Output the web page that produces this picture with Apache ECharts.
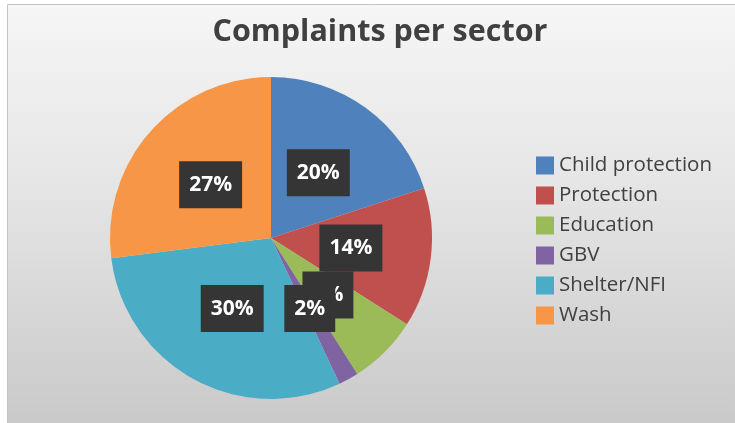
<!DOCTYPE html>
<html>
<head>
<meta charset="utf-8">
<script src="https://cdn.jsdelivr.net/npm/echarts@6/dist/echarts.min.js"></script>
<style>
  html, body { margin: 0; padding: 0; background: #ffffff; }
  #chart { width: 735px; height: 423px; }
</style>
</head>
<body>
<div id="chart"></div>
<script>
// Complaints per sector (share of all complaints, %)
const sectors = ['Child protection', 'Protection', 'Education', 'GBV', 'Shelter/NFI', 'Wash'];
const shares = [20, 14, 7, 2, 30, 27];
const sectorColors = ['#4F81BD', '#C0504D', '#9BBB59', '#8064A2', '#4BACC6', '#F79646'];
// stacking order of the percentage boxes (first is drawn underneath)
const labelDrawOrder = ['Education', 'Child protection', 'Wash', 'Shelter/NFI', 'Protection', 'GBV'];

const total = shares.reduce((a, b) => a + b, 0);

// mid-angle of every slice on a 0..total angle scale, so each box sits
// halfway out along its own slice
const midShare = {};
let running = 0;
sectors.forEach((name, i) => {
  midShare[name] = running + shares[i] / 2;
  running += shares[i];
});

const labelData = labelDrawOrder.map(name => {
  const i = sectors.indexOf(name);
  return {
    name: name,
    value: [0.5, midShare[name]],
    share: shares[i]
  };
});

const chart = echarts.init(document.getElementById('chart'), null, { renderer: 'canvas' });

const CENTER = [271, 238];
const RADIUS = 161;

chart.setOption({
  animation: false,
  graphic: [{
    type: 'rect',
    z: -10,
    shape: { x: 7.5, y: 4.5, width: 740, height: 430 },
    style: {
      fill: new echarts.graphic.LinearGradient(0, 0, 0, 1, [
        { offset: 0, color: '#f6f6f6' },
        { offset: 0.45, color: '#e4e4e4' },
        { offset: 1, color: '#c8c8c8' }
      ]),
      stroke: '#c4c4c4',
      lineWidth: 1
    }
  }],
  title: {
    text: 'Complaints per sector',
    left: 375,
    top: 12,
    textAlign: 'center',
    textStyle: {
      fontFamily: 'Open Sans',
      fontWeight: 'bold',
      fontSize: 30.5,
      color: '#404040'
    }
  },
  legend: {
    orient: 'vertical',
    left: 536,
    top: 155,
    padding: 0,
    icon: 'rect',
    itemWidth: 18,
    itemHeight: 18,
    itemGap: 9,
    data: sectors,
    textStyle: {
      fontFamily: 'Open Sans',
      fontSize: 20.5,
      lineHeight: 18,
      color: '#404040'
    }
  },
  polar: { center: CENTER, radius: [0, RADIUS] },
  angleAxis: { type: 'value', min: 0, max: total, startAngle: 90, clockwise: true, show: false },
  radiusAxis: { type: 'value', min: 0, max: 1, show: false },
  series: [
    {
      type: 'pie',
      name: 'Complaints',
      center: CENTER,
      radius: [0, RADIUS],
      startAngle: 90,
      clockwise: true,
      label: { show: false },
      labelLine: { show: false },
      emphasis: { disabled: true },
      data: sectors.map((name, i) => ({
        name: name,
        value: shares[i],
        itemStyle: { color: sectorColors[i] }
      }))
    },
    {
      type: 'scatter',
      name: 'Share labels',
      coordinateSystem: 'polar',
      silent: true,
      z: 5,
      symbol: 'circle',
      symbolSize: 1,
      itemStyle: { color: 'rgba(0,0,0,0)', opacity: 1 },
      label: {
        show: true,
        position: 'inside',
        formatter: p => p.data.share + '%',
        color: '#ffffff',
        fontFamily: 'Open Sans',
        fontWeight: 'bold',
        fontSize: 21,
        lineHeight: 21,
        backgroundColor: '#353535',
        padding: [13, 10, 13, 10]
      },
      data: labelData
    }
  ]
});
</script>
</body>
</html>
